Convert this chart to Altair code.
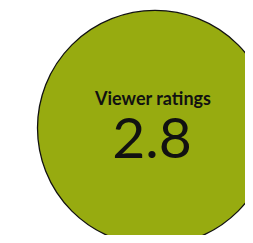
import altair as alt
import pandas as pd

labels = ["Viewer ratings"]
values = [2.8]

df = pd.DataFrame({"label": labels, "value": values})

base = alt.Chart(df)

circle = base.mark_circle(
    size=55225, color="#97ab10", opacity=1, stroke="#111111", strokeWidth=1.3
).encode(x=alt.value(147), y=alt.value(120))

title = base.mark_text(
    font="Lato", fontWeight="bold", fontSize=18, color="#111111",
    baseline="alphabetic", align="center"
).encode(x=alt.value(145), y=alt.value(97), text="label:N")

num = base.mark_text(
    font="Lato", fontWeight="normal", fontSize=57, color="#111111",
    baseline="alphabetic", align="center"
).encode(x=alt.value(144), y=alt.value(150), text=alt.Text("value:Q", format=".1f"))

chart = alt.layer(circle, title, num).properties(
    width=237, height=227, padding=0, autosize=alt.AutoSizeParams(type="none")
).configure_view(stroke=None)

chart.save("out.html", embed_options={"renderer": "svg", "actions": False})
